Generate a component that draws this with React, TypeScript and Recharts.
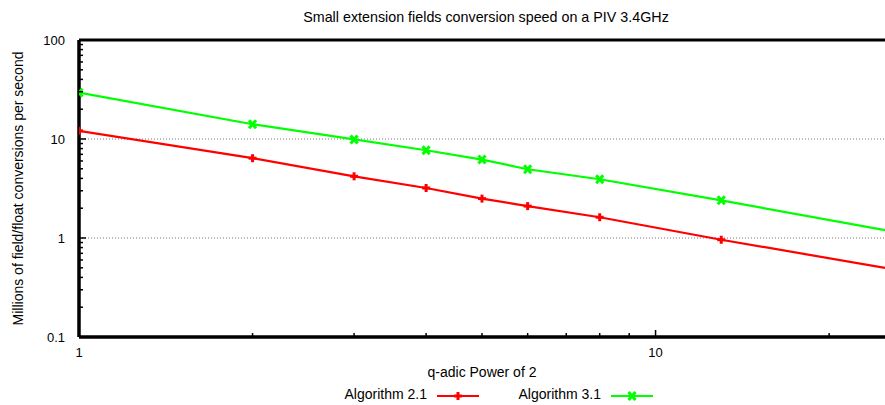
import React from 'react';
import { LineChart, Line, XAxis, YAxis, ReferenceLine } from 'recharts';

// q-adic power (x) and conversion speed in millions/s (y)
const qPowers = [1, 2, 3, 4, 5, 6, 8, 13, 25];
const alg21 = [12.1, 6.4, 4.2, 3.2, 2.5, 2.1, 1.62, 0.96, 0.5];
const alg31 = [29.4, 14.1, 9.9, 7.7, 6.2, 4.95, 3.92, 2.4, 1.2];

const xDecades = [1, 10];
const yDecades = [0.1, 1, 10, 100];
const minorSteps = [2, 3, 4, 5, 6, 7, 8, 9];
const gridLevels = [1, 10];

const FONT = '"Liberation Sans", Arial, sans-serif';
const RED = '#ff0000';
const GREEN = '#00ff00';
const BORDER = { stroke: '#000', strokeWidth: 3 };

const data = qPowers.map((q, i) => ({ q, a21: alg21[i], a31: alg31[i] }));

const withMinors = (decades: number[], max: number) => {
  const out: number[] = [];
  decades.forEach((d) => {
    out.push(d);
    minorSteps.forEach((m) => {
      const v = +(d * m).toPrecision(3);
      if (v <= max) out.push(v);
    });
  });
  return out.filter((v, i, a) => a.indexOf(v) === i && v <= max);
};

const xTicks = withMinors(xDecades, 25);
const yTicks = withMinors(yDecades, 100);

const isMajor = (v: number, majors: number[]) => majors.some((m) => Math.abs(m - v) < 1e-9);

const YTick = (props: any) => {
  const { x, y, payload } = props;
  const major = isMajor(payload.value, yDecades);
  return (
    <g>
      <line x1={x} y1={y} x2={x + (major ? 7 : 4)} y2={y} stroke="#000" strokeWidth={1.5} />
      {major && (
        <text x={x - 14} y={y} dy="0.35em" textAnchor="end" fontSize={13} fontFamily={FONT} fill="#000">
          {payload.value}
        </text>
      )}
    </g>
  );
};

const XTick = (props: any) => {
  const { x, y, payload } = props;
  const major = isMajor(payload.value, xDecades);
  return (
    <g>
      <line x1={x} y1={y} x2={x} y2={y - (major ? 7 : 4)} stroke="#000" strokeWidth={1.5} />
      {major && (
        <text x={x} y={y + 15} dy="0.35em" textAnchor="middle" fontSize={13} fontFamily={FONT} fill="#000">
          {payload.value}
        </text>
      )}
    </g>
  );
};

const TopTick = (props: any) => {
  const { x, y, payload } = props;
  const major = isMajor(payload.value, xDecades);
  return <line x1={x} y1={y} x2={x} y2={y + (major ? 7 : 4)} stroke="#000" strokeWidth={1.5} />;
};

const PlusDot = (props: any) => {
  const { cx, cy, payload } = props;
  if (payload.q === qPowers[qPowers.length - 1]) return <g />;
  return (
    <g stroke={RED} strokeWidth={3}>
      <line x1={cx - 4} y1={cy} x2={cx + 4} y2={cy} />
      <line x1={cx} y1={cy - 4} x2={cx} y2={cy + 4} />
    </g>
  );
};

const CrossDot = (props: any) => {
  const { cx, cy, payload } = props;
  if (payload.q === qPowers[qPowers.length - 1]) return <g />;
  return (
    <g stroke={GREEN} strokeWidth={3}>
      <line x1={cx - 3.5} y1={cy - 4} x2={cx + 3.5} y2={cy + 4} />
      <line x1={cx - 3.5} y1={cy + 4} x2={cx + 3.5} y2={cy - 4} />
    </g>
  );
};

const YLabel = (props: any) => {
  const { viewBox } = props;
  const cx = viewBox.x + 18;
  const cy = viewBox.y + viewBox.height / 2;
  return (
    <text
      x={cx}
      y={cy}
      transform={`rotate(-90, ${cx}, ${cy})`}
      textAnchor="middle"
      dy="0.35em"
      fontSize={14}
      fontFamily={FONT}
      fill="#000"
    >
      Millions of field/float conversions per second
    </text>
  );
};

const XLabel = (props: any) => {
  const { viewBox } = props;
  return (
    <text
      x={viewBox.x + viewBox.width / 2}
      y={viewBox.y + 35}
      dy="0.35em"
      textAnchor="middle"
      fontSize={14}
      fontFamily={FONT}
      fill="#000"
    >
      q-adic Power of 2
    </text>
  );
};

const LegendItem = ({ label, color, right, lineLeft, dot }: any) => (
  <>
    <div style={{ position: 'absolute', right, top: 386, fontSize: 14, fontFamily: FONT, whiteSpace: 'nowrap' }}>
      {label}
    </div>
    <svg style={{ position: 'absolute', left: lineLeft, top: 389 }} width={42} height={14}>
      <line x1={0} y1={7} x2={42} y2={7} stroke={color} strokeWidth={2} />
      {dot({ cx: 21, cy: 7, payload: { q: 0 } })}
    </svg>
  </>
);

export default function App() {
  return (
    <div style={{ position: 'absolute', left: 0, top: 0, width: 885, height: 405, overflow: 'hidden', background: '#fff' }}>
      <div
        style={{
          position: 'absolute',
          left: 0,
          width: 972,
          top: 9,
          textAlign: 'center',
          fontSize: 14.3,
          fontFamily: FONT,
          whiteSpace: 'nowrap',
        }}
      >
        Small extension fields conversion speed on a PIV 3.4GHz
      </div>
      <LineChart width={885} height={405} data={data} margin={{ top: 40, right: 0, left: 0, bottom: 0 }}>
        <XAxis
          dataKey="q"
          type="number"
          scale="log"
          domain={[1, 25]}
          allowDataOverflow
          ticks={xTicks}
          interval={0}
          tickSize={0}
          tickMargin={0}
          tickLine={false}
          tick={<XTick />}
          height={68}
          axisLine={BORDER}
          label={<XLabel />}
        />
        <XAxis
          xAxisId="top"
          dataKey="q"
          orientation="top"
          type="number"
          scale="log"
          domain={[1, 25]}
          allowDataOverflow
          ticks={xTicks}
          interval={0}
          tickSize={0}
          tickMargin={0}
          tickLine={false}
          tick={<TopTick />}
          height={0}
          axisLine={BORDER}
        />
        <YAxis
          type="number"
          scale="log"
          domain={[0.1, 100]}
          allowDataOverflow
          ticks={yTicks}
          interval={0}
          tickSize={0}
          tickMargin={0}
          tickLine={false}
          tick={<YTick />}
          width={79}
          axisLine={BORDER}
          label={<YLabel />}
        />
        {gridLevels.map((g) => (
          <ReferenceLine key={g} y={g} stroke="#777" strokeDasharray="1 2" strokeWidth={1} />
        ))}
        <ReferenceLine y={100} stroke="#000" strokeWidth={3} />
        <ReferenceLine y={0.1} stroke="#000" strokeWidth={3} />
        <ReferenceLine x={1} stroke="#000" strokeWidth={3} />
        <Line
          type="linear"
          dataKey="a21"
          stroke={RED}
          strokeWidth={2.2}
          dot={<PlusDot />}
          activeDot={false}
          isAnimationActive={false}
        />
        <Line
          type="linear"
          dataKey="a31"
          stroke={GREEN}
          strokeWidth={2.2}
          dot={<CrossDot />}
          activeDot={false}
          isAnimationActive={false}
        />
      </LineChart>
      <LegendItem label="Algorithm 2.1" color={RED} right={885 - 427} lineLeft={437} dot={PlusDot} />
      <LegendItem label="Algorithm 3.1" color={GREEN} right={885 - 601} lineLeft={611} dot={CrossDot} />
    </div>
  );
}
